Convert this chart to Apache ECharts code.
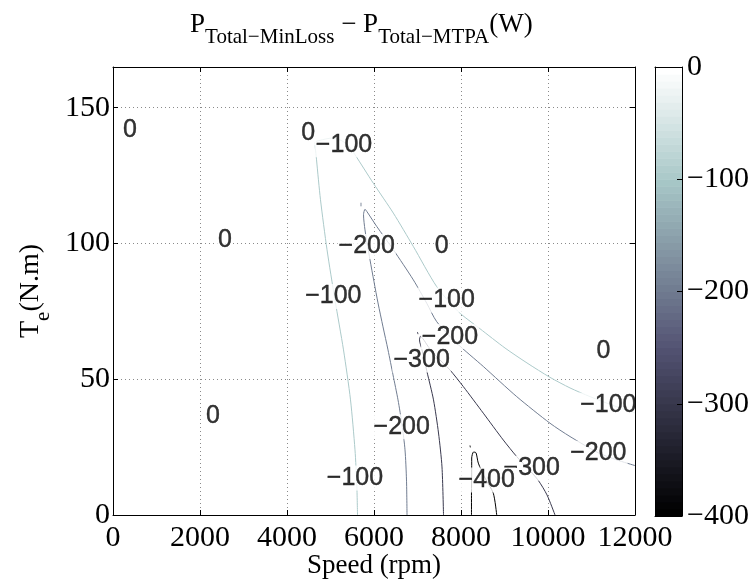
<!DOCTYPE html>
<html>
<head>
<meta charset="utf-8">
<script src="https://cdn.jsdelivr.net/npm/echarts@6/dist/echarts.min.js"></script>
<style>
html, body { margin: 0; padding: 0; background: #fff; }
#chart { width: 755px; height: 585px; }
</style>
</head>
<body>
<div id="chart"></div>
<script>
// Power-loss difference map: contour lines of P(MinLoss) - P(MTPA) over speed/torque
const speedTicks = [0, 2000, 4000, 6000, 8000, 10000, 12000];
const torqueTicks = [0, 50, 100, 150];
const colorbarTicks = [-400, -300, -200, -100, 0];

// contour polylines, points are [speed (rpm), torque (N.m)]
const lineM100 = [
  [5621, 0], [5605, 11.1], [5563, 24.0], [5460, 42.4], [5299, 60.8], [5103, 79.2],
  [4920, 97.7], [4770, 116.1], [4679, 130.8], [4644, 137.2], [4759, 138.0], [5028, 138.8],
  [5242, 138.0], [5425, 135.8], [5563, 132.7], [5984, 122.2], [6444, 111.2], [6904, 98.9],
  [7442, 84.1], [7938, 74.9], [8437, 68.6], [9012, 61.5], [9517, 56.0], [10046, 50.7],
  [10506, 46.8], [10966, 43.6], [11472, 40.5], [12000, 37.6]
];
const lineM200 = [
  [6759, 0], [6747, 12.9], [6713, 24.0], [6644, 33.2], [6552, 42.4], [6437, 51.6],
  [6322, 60.8], [6207, 69.3], [6092, 78.1], [6000, 85.9], [5908, 94.0], [5793, 105.0],
  [5759, 110.6], [5793, 112.6], [5839, 111.7], [6062, 106.3], [6444, 97.7], [6904, 86.6],
  [7212, 78.0], [7442, 71.2], [7901, 63.3], [8513, 54.7], [9281, 43.6], [10046, 33.8],
  [10506, 28.9], [11157, 22.9], [11580, 20.3], [12000, 18.2]
];
const lineM300 = [
  [7598, 0], [7563, 17.7], [7483, 30.2], [7368, 42.4], [7219, 52.7], [7104, 60.8],
  [7046, 64.5], [7069, 65.8], [7127, 64.9], [7248, 62.0], [7442, 58.3], [7747, 53.4],
  [8053, 47.3], [8513, 37.5], [8973, 27.6], [9281, 21.5], [9517, 17.5], [9770, 12.9],
  [9977, 7.4], [10161, 0]
];
const lineM400 = [
  [8241, 0], [8241, 8.1], [8246, 15.5], [8246, 21.0], [8288, 23.2], [8345, 22.9],
  [8398, 19.1], [8552, 13.6], [8743, 8.0], [8821, 0]
];
// tiny closed contours
const islandM200 = [[5701, 113.7], [5701, 115.0]];
const islandM300 = [[6998, 67.4], [7012, 66.6]];
const islandM400 = [[8207, 25.6], [8215, 24.9]];

// contour level labels: [text, speed, torque]
const contourLabels = [
  ['0', 391, 141.9], ['0', 2575, 101.4], ['0', 4490, 140.7], ['0', 7556, 98.9],
  ['0', 11272, 60.2], ['0', 2299, 36.5],
  ['\u2212100', 5311, 136.4], ['\u2212100', 5065, 80.5], ['\u2212100', 7671, 79.2],
  ['\u2212100', 11387, 40.5], ['\u2212100', 5563, 13.6],
  ['\u2212200', 5832, 98.9], ['\u2212200', 7747, 65.7], ['\u2212200', 6637, 32.5],
  ['\u2212200', 11157, 22.7],
  ['\u2212300', 7096, 57.1], ['\u2212300', 9625, 17.2],
  ['\u2212400', 8591, 12.9]
];

const CMIN = -400, CMAX = 0, NCOLORS = 64;

// MATLAB "bone" colormap row i (0-based) of n
function boneRow(i, n) {
  const t = i / (n - 1);
  const cl = v => Math.max(0, Math.min(1, v));
  const r = (7 * t + cl((t - 0.75) * 4)) / 8;
  const g = (7 * t + cl((t - 0.375) * 8 / 3)) / 8;
  const b = (7 * t + cl(t * 8 / 3)) / 8;
  return 'rgb(' + Math.round(r * 255) + ',' + Math.round(g * 255) + ',' + Math.round(b * 255) + ')';
}
function levelColor(level) {
  let idx = Math.floor((level - CMIN) / (CMAX - CMIN) * NCOLORS);
  idx = Math.max(0, Math.min(NCOLORS - 1, idx));
  return boneRow(idx, NCOLORS);
}

const colorBands = [];
for (let i = 0; i < NCOLORS; i++) {
  const lo = CMIN + (CMAX - CMIN) * i / NCOLORS;
  const hi = CMIN + (CMAX - CMIN) * (i + 1) / NCOLORS;
  colorBands.push({ value: [lo, hi], color: boneRow(i, NCOLORS) });
}

const SERIF = "'Liberation Serif', 'Times New Roman', serif";
const SANS = "'Liberation Sans', Arial, Helvetica, sans-serif";
const minus = v => (v < 0 ? '\u2212' + Math.abs(v) : String(v));

const gridSplit = { show: true, lineStyle: { color: '#8a8a8a', type: [1, 3], width: 1 } };
const tickInside = { show: true, inside: true, length: 5, lineStyle: { color: '#000' } };
const blackLine = { show: true, onZero: false, lineStyle: { color: '#000', width: 1 } };

function contourSeries(data, level) {
  return {
    type: 'line', data: data, xAxisIndex: 0, yAxisIndex: 0,
    showSymbol: false, symbol: 'none', smooth: 0.25, silent: true,
    lineStyle: { color: levelColor(level), width: 1 }, z: 2
  };
}

const chart = echarts.init(document.getElementById('chart'), null, { renderer: 'canvas' });
chart.setOption({
  animation: false,
  backgroundColor: '#fff',
  title: {
    text: '{p|P}{s|Total\u2212MinLoss}{p| \u2212 P}{s|Total\u2212MTPA}{p|(W)}',
    left: 185, top: 6,
    textStyle: {
      fontWeight: 'normal',
      rich: {
        p: { fontSize: 27, fontFamily: SERIF, fontWeight: 'normal', color: '#000', lineHeight: 30, verticalAlign: 'top' },
        s: { fontSize: 21, fontFamily: SERIF, fontWeight: 'normal', color: '#000', lineHeight: 22, verticalAlign: 'top', padding: [16, 0, 0, 0] }
      }
    }
  },
  grid: [
    { left: 113, top: 67, width: 522, height: 448, show: false, outerBoundsMode: 'none', containLabel: false },
    { left: 655, top: 67, width: 27, height: 449, show: false, outerBoundsMode: 'none', containLabel: false }
  ],
  xAxis: [
    {
      type: 'value', gridIndex: 0, min: 0, max: 12000, interval: 2000, position: 'bottom',
      axisLine: blackLine, axisTick: tickInside, splitLine: gridSplit,
      axisLabel: { color: '#000', fontSize: 30, fontFamily: SERIF, margin: 8, formatter: v => String(v) },
      name: 'Speed (rpm)', nameLocation: 'middle', nameGap: 37, nameMoveOverlap: false,
      nameTextStyle: { color: '#000', fontSize: 27, fontFamily: SERIF, verticalAlign: 'top' }
    },
    {
      type: 'value', gridIndex: 0, min: 0, max: 12000, interval: 2000, position: 'top',
      axisLine: blackLine, axisTick: tickInside, splitLine: { show: false },
      axisLabel: { show: false }
    },
    {
      type: 'value', gridIndex: 1, min: 0, max: 1, position: 'bottom', z: 10,
      axisLine: blackLine, axisTick: { show: false }, splitLine: { show: false }, axisLabel: { show: false }
    },
    {
      type: 'value', gridIndex: 1, min: 0, max: 1, position: 'top', z: 10,
      axisLine: blackLine, axisTick: { show: false }, splitLine: { show: false }, axisLabel: { show: false }
    }
  ],
  yAxis: [
    {
      type: 'value', gridIndex: 0, min: 0, max: 165, interval: 50, position: 'left',
      axisLine: blackLine, axisTick: tickInside, splitLine: gridSplit,
      axisLabel: { color: '#000', fontSize: 30, fontFamily: SERIF, margin: 3, showMaxLabel: false },
      name: '{t|T}{e|e}{t|(N.m)}', nameLocation: 'middle', nameGap: 66, nameRotate: 90,
      nameTextStyle: {
        rich: {
          t: { fontSize: 28, fontFamily: SERIF, color: '#000', lineHeight: 30, verticalAlign: 'top' },
          e: { fontSize: 21, fontFamily: SERIF, color: '#000', lineHeight: 22, verticalAlign: 'top', padding: [16, 0, 0, 0] }
        }
      }
    },
    {
      type: 'value', gridIndex: 0, min: 0, max: 165, interval: 50, position: 'right', z: 10,
      axisLine: blackLine, axisTick: tickInside, splitLine: { show: false },
      axisLabel: { show: false, showMaxLabel: false }
    },
    {
      type: 'value', gridIndex: 1, min: CMIN, max: CMAX, interval: 100, position: 'right', z: 10,
      axisLine: blackLine, axisTick: tickInside, splitLine: { show: false },
      axisLabel: { color: '#000', fontSize: 30, fontFamily: SERIF, margin: 5, formatter: minus }
    },
    {
      type: 'value', gridIndex: 1, min: CMIN, max: CMAX, interval: 100, position: 'left', z: 10,
      axisLine: blackLine, axisTick: { show: false }, splitLine: { show: false }, axisLabel: { show: false }
    }
  ],
  series: [
    contourSeries(lineM100, -100),
    contourSeries(lineM200, -200),
    contourSeries(islandM200, -200),
    contourSeries(lineM300, -300),
    contourSeries(islandM300, -300),
    contourSeries(lineM400, -400),
    contourSeries(islandM400, -400),
    {
      type: 'scatter', xAxisIndex: 0, yAxisIndex: 0, silent: true, z: 4,
      symbolSize: 2, itemStyle: { color: 'rgba(255,255,255,0)' },
      data: contourLabels.map(d => ({ name: d[0], value: [d[1], d[2]] })),
      label: {
        show: true, position: 'inside', formatter: '{b}', offset: [0, 1],
        color: '#000', fontSize: 25, fontFamily: SANS,
        textBorderColor: '#000', textBorderWidth: 0.4,
        backgroundColor: '#fff', padding: [0, 1]
      },
      labelLayout: { hideOverlap: false }
    },
    {
      type: 'custom', xAxisIndex: 2, yAxisIndex: 2, silent: true, z: 1,
      data: colorBands.map(b => b.value),
      renderItem: function (params, api) {
        const p0 = api.coord([0, api.value(0)]);
        const p1 = api.coord([1, api.value(1)]);
        return {
          type: 'rect',
          shape: { x: p0[0], y: p1[1], width: p1[0] - p0[0], height: p0[1] - p1[1] + 0.6 },
          style: { fill: colorBands[params.dataIndex].color }
        };
      }
    }
  ]
});
</script>
</body>
</html>
